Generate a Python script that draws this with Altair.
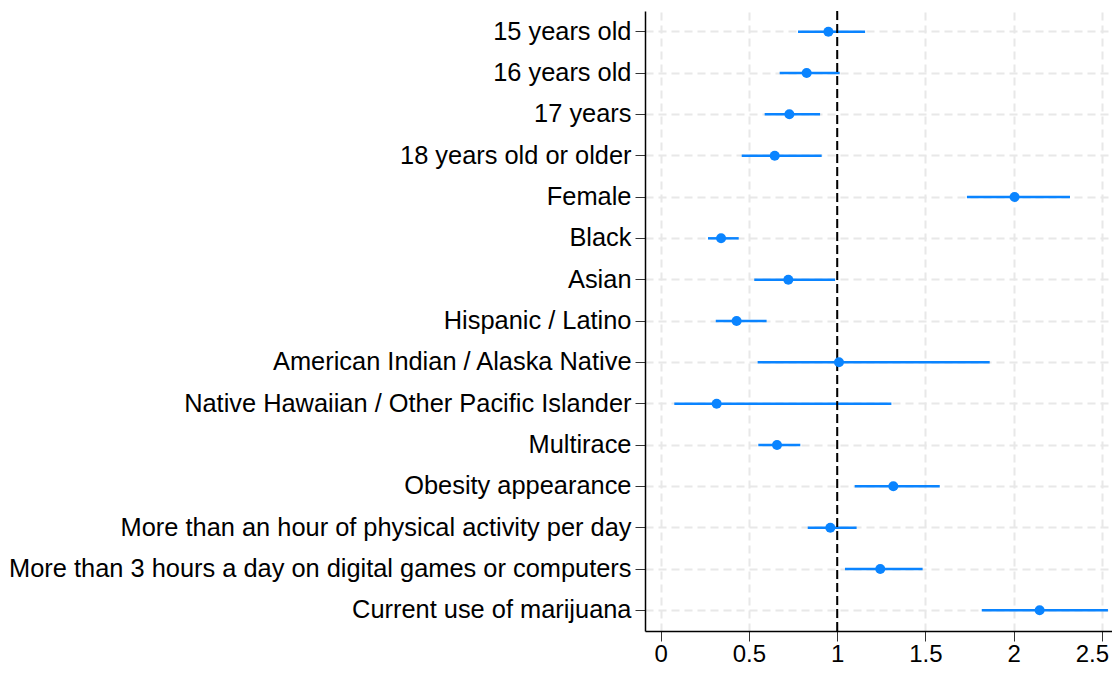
import altair as alt
import pandas as pd

labels = [
    "15 years old",
    "16 years old",
    "17 years",
    "18 years old or older",
    "Female",
    "Black",
    "Asian",
    "Hispanic / Latino",
    "American Indian / Alaska Native",
    "Native Hawaiian / Other Pacific Islander",
    "Multirace",
    "Obesity appearance",
    "More than an hour of physical activity per day",
    "More than 3 hours a day on digital games or computers",
    "Current use of marijuana",
]
estimate = [0.95, 0.827, 0.729, 0.646, 2.005, 0.342, 0.723, 0.430, 1.010, 0.317, 0.659, 1.318, 0.961, 1.244, 2.147]
ci_low = [0.778, 0.674, 0.589, 0.459, 1.735, 0.268, 0.530, 0.312, 0.549, 0.077, 0.553, 1.099, 0.833, 1.044, 1.819]
ci_high = [1.158, 1.014, 0.903, 0.912, 2.319, 0.442, 0.988, 0.600, 1.864, 1.307, 0.791, 1.581, 1.110, 1.484, 2.534]
ref_value = [1.0]

df = pd.DataFrame({"label": labels, "est": estimate, "lo": ci_low, "hi": ci_high})
ref = pd.DataFrame({"x": ref_value})

FONT = "Liberation Sans"
BLUE = "#0a84ff"
FS = 25.4

xscale = alt.Scale(domain=[-0.089, 2.557], nice=False, zero=False)
yscale = alt.Scale(domain=labels, paddingInner=0, paddingOuter=0)

xaxis = alt.Axis(
    title=None, values=[0, 0.5, 1, 1.5, 2, 2.5], labelFontSize=24, labelFont=FONT,
    labelColor="black", tickColor="#333333", tickSize=10, domainColor="black",
    gridDash=[8, 5], gridColor="#e8e8e8", gridWidth=2, labelPadding=20,
    labelBaseline="alphabetic",
    labelOffset={"expr": "datum.value == 2.5 ? -10 : 0"},
    labelExpr="datum.value", labelFlush=False,
)
yaxis = alt.Axis(
    title=None, labelFontSize=FS, labelFont=FONT, labelColor="black",
    tickColor="#333333", tickSize=10, domainColor="black", labelLimit=1000,
    grid=True, bandPosition=0.5,
    gridDash=[8, 5], gridColor="#e8e8e8", gridWidth=2, labelPadding=4,
)

base = alt.Chart(df)

rules = base.mark_rule(color=BLUE, strokeWidth=2.5).encode(
    x=alt.X("lo:Q", scale=xscale, axis=xaxis),
    x2="hi:Q",
    y=alt.Y("label:N", scale=yscale, axis=yaxis, sort=labels),
)
points = base.mark_circle(color=BLUE, opacity=1, size=100).encode(
    x=alt.X("est:Q", scale=xscale),
    y=alt.Y("label:N", scale=yscale, sort=labels),
)
refline = alt.Chart(ref).mark_rule(color="black", strokeWidth=2, strokeDash=[9, 4]).encode(
    x=alt.X("x:Q", scale=xscale)
)

chart = (
    alt.layer(rules, refline, points)
    .properties(
        width=467, height=620,
        autosize=alt.AutoSizeParams(type="none"),
        padding={"left": 637, "top": 3, "right": 0, "bottom": 36},
    )
    .configure_view(stroke=None)
    .configure_axis(domainWidth=1.5)
)

chart.save("out.html", embed_options={"renderer": "svg", "actions": False})
